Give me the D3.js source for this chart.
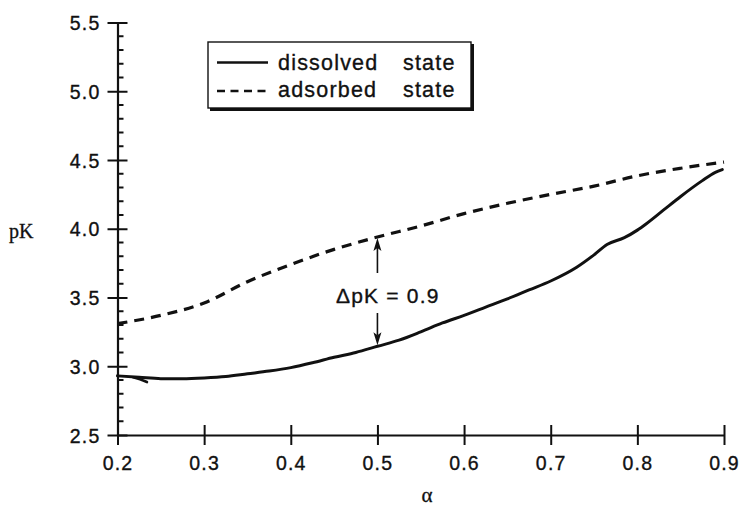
<!DOCTYPE html>
<html>
<head>
<meta charset="utf-8">
<script src="https://cdn.jsdelivr.net/npm/d3@7"></script>
<style>
  html, body { margin: 0; padding: 0; background: #fff; }
  svg { display: block; }
  .sans { font-family: "Liberation Sans", Arial, Helvetica, sans-serif; fill: #111; stroke: #111; stroke-width: 0.35px; }
  .serif { font-family: "Liberation Serif", "Times New Roman", serif; fill: #111; stroke: #111; stroke-width: 0.3px; }
</style>
</head>
<body>
<svg id="chart" width="744" height="508"></svg>
<script>
// degree of neutralization α and the corresponding pK values
const alphaDissolved = [0.200, 0.225, 0.250, 0.275, 0.300, 0.325, 0.350, 0.375, 0.400, 0.425,
                        0.450, 0.475, 0.500, 0.525, 0.550, 0.575, 0.600, 0.625, 0.650, 0.675,
                        0.700, 0.730, 0.750, 0.765, 0.785, 0.800, 0.810, 0.830, 0.850, 0.875,
                        0.890, 0.898];
const pkDissolved    = [2.93, 2.92, 2.91, 2.91, 2.915, 2.925, 2.945, 2.965, 2.99, 3.025,
                        3.065, 3.10, 3.145, 3.19, 3.25, 3.315, 3.37, 3.43, 3.49, 3.555,
                        3.62, 3.72, 3.81, 3.885, 3.935, 3.99, 4.035, 4.135, 4.235, 4.35,
                        4.41, 4.43];
// small stray stroke at the start of the dissolved-state trace
const alphaTail = [0.218, 0.226, 0.234];
const pkTail    = [2.92, 2.905, 2.885];

const alphaAdsorbed = [0.20, 0.25, 0.30, 0.35, 0.40, 0.45, 0.50, 0.55, 0.60, 0.65,
                       0.70, 0.75, 0.80, 0.85, 0.90];
const pkAdsorbed    = [3.31, 3.37, 3.46, 3.615, 3.74, 3.85, 3.94, 4.02, 4.11, 4.185,
                       4.25, 4.31, 4.385, 4.44, 4.485];

const xTicks = [0.2, 0.3, 0.4, 0.5, 0.6, 0.7, 0.8, 0.9];
const yTicks = [2.5, 3.0, 3.5, 4.0, 4.5, 5.0, 5.5];
const yMinorTicks = d3.range(26, 55).map(v => v / 10).filter(v => Math.abs(v * 2 - Math.round(v * 2)) > 1e-6);

const seriesLabels = ["dissolved", "adsorbed"];
const annotationAlpha = 0.5;
const annotationText = "ΔpK = 0.9";

const svg = d3.select("#chart");
const x = d3.scaleLinear().domain([0.2, 0.9]).range([117.5, 724]);
const y = d3.scaleLinear().domain([2.5, 5.5]).range([435, 22.5]);

const ink = "#111";

// y axis: major ticks straddle the axis, minor ticks point inward
const yAxis = d3.axisLeft(y).tickValues(yTicks).tickSize(0).tickFormat(d3.format(".1f"));
const gy = svg.append("g").attr("transform", `translate(${x(0.2)},0)`).call(yAxis);
gy.select(".domain").attr("stroke", ink).attr("stroke-width", 2.2);
gy.selectAll(".tick text").attr("class", "sans").attr("x", -17).attr("dy", "0.36em")
  .style("font-size", "19.5px").style("letter-spacing", "1.2px").attr("fill", ink).attr("font-family", null);
gy.selectAll(".tick").append("line").attr("x1", -10).attr("x2", 10)
  .attr("stroke", ink).attr("stroke-width", 2);
gy.selectAll(".minor").data(yMinorTicks).join("line").attr("class", "minor")
  .attr("x1", 0).attr("x2", 6).attr("y1", d => y(d)).attr("y2", d => y(d))
  .attr("stroke", ink).attr("stroke-width", 2);

// x axis
const xAxis = d3.axisBottom(x).tickValues(xTicks).tickSize(0).tickFormat(d3.format(".1f"));
const gx = svg.append("g").attr("transform", `translate(0,${y(2.5)})`).call(xAxis);
gx.select(".domain").attr("stroke", ink).attr("stroke-width", 2.2);
gx.selectAll(".tick text").attr("class", "sans").attr("y", 21).attr("dy", "0.71em")
  .style("font-size", "19.5px").style("letter-spacing", "1.2px").attr("fill", ink).attr("font-family", null);
gx.selectAll(".tick").append("line").attr("y1", -10).attr("y2", 10)
  .attr("stroke", ink).attr("stroke-width", 2);

// axis titles
svg.append("text").attr("class", "serif").attr("x", 9).attr("y", 238)
  .style("font-size", "20px").text("pK");
svg.append("text").attr("class", "serif").attr("x", 427).attr("y", 502)
  .attr("text-anchor", "middle").style("font-size", "21px").text("α");

// curves
const line = d3.line().x(d => x(d[0])).y(d => y(d[1])).curve(d3.curveMonotoneX);
const dissolved = d3.zip(alphaDissolved, pkDissolved);
const tail = d3.zip(alphaTail, pkTail);
const adsorbed = d3.zip(alphaAdsorbed, pkAdsorbed);

svg.append("path").datum(adsorbed).attr("d", line)
  .attr("fill", "none").attr("stroke", ink).attr("stroke-width", 3.2)
  .attr("stroke-dasharray", "10,7");
svg.append("path").datum(dissolved).attr("d", line)
  .attr("fill", "none").attr("stroke", ink).attr("stroke-width", 3)
  .attr("stroke-linejoin", "round").attr("stroke-linecap", "round");
svg.append("path").datum(tail).attr("d", d3.line().x(d => x(d[0])).y(d => y(d[1])))
  .attr("fill", "none").attr("stroke", ink).attr("stroke-width", 2.6)
  .attr("stroke-linecap", "round");

// ΔpK annotation between the two curves at α = 0.5
const iA = alphaAdsorbed.indexOf(annotationAlpha);
const iD = alphaDissolved.indexOf(annotationAlpha);
const ax = x(annotationAlpha);
const yTop = y(pkAdsorbed[iA]);
const yBot = y(pkDissolved[iD]);
const labelY = 303;
svg.append("text").attr("class", "sans").attr("x", 336).attr("y", labelY)
  .style("font-size", "21px").style("letter-spacing", "1.2px").text(annotationText);

function arrow(y0, y1) {
  const dir = Math.sign(y1 - y0);
  svg.append("line").attr("x1", ax).attr("x2", ax).attr("y1", y0).attr("y2", y1 - dir * 10)
    .attr("stroke", ink).attr("stroke-width", 1.6);
  svg.append("path")
    .attr("d", `M${ax},${y1} L${ax - 4},${y1 - dir * 13} L${ax},${y1 - dir * 10} L${ax + 4},${y1 - dir * 13} Z`)
    .attr("fill", ink);
}
arrow(labelY - 30, yTop + 1);
arrow(labelY + 10, yBot - 1);

// legend box with drop shadow
const lg = svg.append("g");
lg.append("rect").attr("x", 210).attr("y", 44).attr("width", 264).attr("height", 67).attr("fill", ink);
lg.append("rect").attr("x", 208).attr("y", 42).attr("width", 263).attr("height", 66)
  .attr("fill", "#fff").attr("stroke", ink).attr("stroke-width", 1.4);

const rows = [
  { label: seriesLabels[0], dash: null, ly: 62.5, ty: 69.5 },
  { label: seriesLabels[1], dash: "8,5.5", ly: 91, ty: 97 }
];
rows.forEach(r => {
  lg.append("line").attr("x1", 217).attr("x2", 268).attr("y1", r.ly).attr("y2", r.ly)
    .attr("stroke", ink).attr("stroke-width", 2.6).attr("stroke-dasharray", r.dash);
  lg.append("text").attr("class", "sans").attr("x", 278).attr("y", r.ty)
    .style("font-size", "21.5px").style("letter-spacing", "1.2px").text(r.label);
  lg.append("text").attr("class", "sans").attr("x", 403).attr("y", r.ty)
    .style("font-size", "21.5px").style("letter-spacing", "1.2px").text("state");
});
</script>
</body>
</html>
